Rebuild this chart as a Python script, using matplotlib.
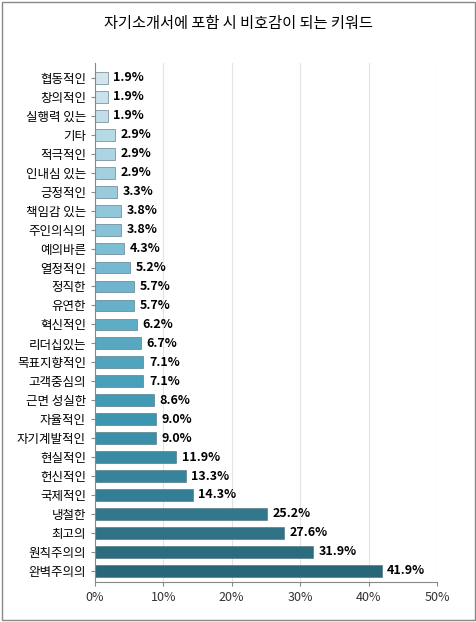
import matplotlib.pyplot as plt
import numpy as np
from matplotlib.colors import LinearSegmentedColormap
from matplotlib.patches import Rectangle

plt.rcParams['font.family'] = ['Noto Sans CJK KR', 'DejaVu Sans']

labels = ['협동적인', '창의적인', '실행력 있는', '기타', '적극적인', '인내심 있는', '긍정적인',
          '책임감 있는', '주인의식의', '예의바른', '열정적인', '정직한', '유연한', '혁신적인',
          '리더십있는', '목표지향적인', '고객중심의', '근면 성실한', '자율적인', '자기계발적인',
          '현실적인', '헌신적인', '국제적인', '냉철한', '최고의', '원칙주의의', '완벽주의의']
values = [1.9, 1.9, 1.9, 2.9, 2.9, 2.9, 3.3, 3.8, 3.8, 4.3, 5.2, 5.7, 5.7, 6.2, 6.7, 7.1,
          7.1, 8.6, 9.0, 9.0, 11.9, 13.3, 14.3, 25.2, 27.6, 31.9, 41.9]
xticks = [0, 10, 20, 30, 40, 50]

fig = plt.figure(figsize=(4.77, 6.22), dpi=100)
fig.patches.append(Rectangle((0.004, 0.004), 0.992, 0.992, transform=fig.transFigure,
                             fill=False, edgecolor='#888888', lw=1))
ax = fig.add_axes([0.199, 0.064, 0.717, 0.835])

cmap = LinearSegmentedColormap.from_list('b', ['#d3e6ee', '#7fbfd6', '#3f9ab5', '#2a6679'])
n = len(values)
colors = [cmap(i / (n - 1)) for i in range(n)]
y = np.arange(n)
ax.barh(y, values, height=0.62, color=colors, edgecolor='#4a6a78', linewidth=0.4)
for yi, v in zip(y, values):
    ax.text(v + 0.8, yi, f'{v:.1f}%', va='center', ha='left', fontsize=9, fontweight='bold')

ax.set_ylim(n - 0.4, -0.8)
ax.set_xlim(0, 50)
ax.set_yticks(y)
ax.set_yticklabels(labels, fontsize=9)
ax.set_xticks(xticks)
ax.set_xticklabels([f'{t}%' for t in xticks], fontsize=9, color='#333333')
ax.xaxis.grid(True, color='#e4e4e4', lw=0.8)
ax.set_axisbelow(True)
for s in ['top', 'right']:
    ax.spines[s].set_visible(False)
ax.spines['left'].set_color('#888888')
ax.spines['bottom'].set_color('#888888')
ax.tick_params(length=3, color='#888888')

fig.text(0.5, 0.962, '자기소개서에 포함 시 비호감이 되는 키워드', ha='center', va='center', fontsize=11)
fig.savefig('out.png', dpi=100)
